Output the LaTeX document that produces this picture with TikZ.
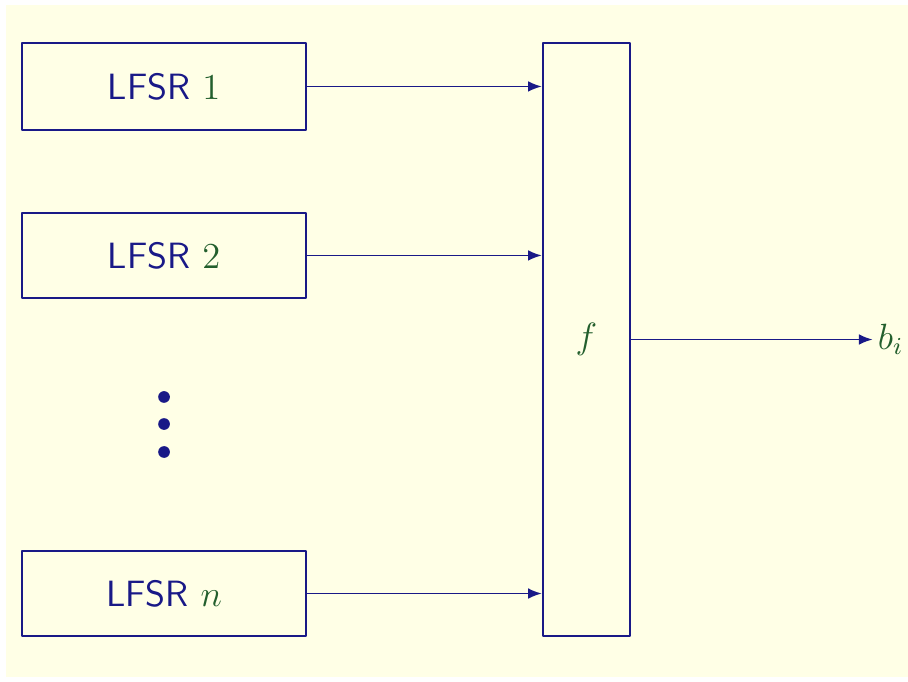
\documentclass[tikz,border=0pt]{standalone}
\usepackage{amsmath,amssymb}
\usepackage{xcolor}
\usepackage{tikz}
\usetikzlibrary{arrows.meta,calc}

\definecolor{slidebg}{RGB}{255,255,230}
\definecolor{navy}{RGB}{25,25,135}
\definecolor{mathgreen}{RGB}{35,95,45}

\begin{document}
\begin{tikzpicture}[>={Latex[length=4.5pt,width=3.5pt]},line join=round,
    reg/.style={draw=navy,line width=0.75pt,minimum width=3.277cm,minimum height=1.0cm,
      inner sep=0pt,font=\sffamily\large,text=navy},
    combiner/.style={draw=navy,line width=0.75pt,minimum width=1.004cm,minimum height=6.843cm,
      inner sep=0pt},
    wire/.style={->,navy,line width=0.6pt},
    dot/.style={circle,fill=navy,inner sep=0pt,minimum size=0.135cm}]
  \useasboundingbox (0,0) rectangle (10.478,-7.859);
  \fill[slidebg] (0.069,-0.058) rectangle (10.478,-7.813);
  \node[reg] (L1) at (1.893,-0.998) {LFSR \textcolor{mathgreen}{$1$}};
  \node[reg,minimum height=0.981cm] (L2) at (1.893,-2.948) {LFSR \textcolor{mathgreen}{$2$}};
  \node[reg,minimum height=0.981cm] (Ln) at (1.893,-6.849) {LFSR \textcolor{mathgreen}{$n$}};
  \node[combiner] (F) at (6.768,-3.918) {\large\textcolor{mathgreen}{$f$}};
  \node[dot] (D1) at (1.893,-4.581) {};
  \node[dot] (D2) at (1.893,-4.893) {};
  \node[dot] (D3) at (1.893,-5.216) {};
  \node[anchor=west,inner sep=1.5pt,text=mathgreen,font=\large] (B) at (10.07,-3.918) {$b_i$};
  \draw[wire] (L1.east) -- (L1.east -| F.west);
  \draw[wire] (L2.east) -- (L2.east -| F.west);
  \draw[wire] (Ln.east) -- (Ln.east -| F.west);
  \draw[wire] (F.east) -- (B.west);
\end{tikzpicture}
\end{document}
